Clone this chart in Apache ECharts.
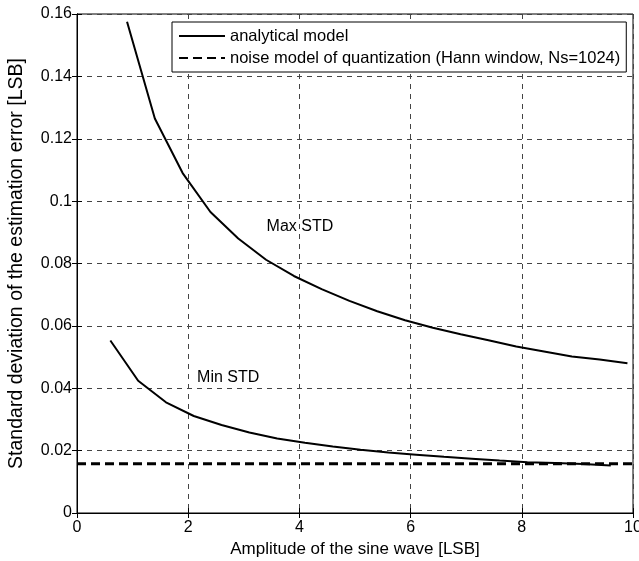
<!DOCTYPE html>
<html><head><meta charset="utf-8">
<script src="https://cdn.jsdelivr.net/npm/echarts@6/dist/echarts.min.js"></script>
<style>html,body{margin:0;padding:0;background:#fff}#c{width:639px;height:561px}</style>
</head><body><div id="c"></div>
<script>
const maxX = [0.9,1.4,1.9,2.4,2.9,3.4,3.9,4.4,4.9,5.4,5.9,6.4,6.9,7.4,7.9,8.4,8.9,9.4,9.9];
const maxY = [0.1575,0.1265,0.109,0.0965,0.088,0.0812,0.076,0.0718,0.068,0.0647,0.0618,0.0594,0.0573,0.0554,0.0534,0.0518,0.0502,0.0492,0.048];
const minX = [0.6,1.1,1.6,2.1,2.6,3.1,3.6,4.1,4.6,5.1,5.6,6.1,6.6,7.1,7.6,8.1,8.6,9.1,9.6];
const minY = [0.0553,0.0424,0.0355,0.0311,0.0282,0.0258,0.0239,0.0225,0.0213,0.0203,0.0194,0.0187,0.018,0.0174,0.0168,0.0163,0.016,0.0157,0.0152];
const noiseX = [0,10];
const noiseY = [0.0158,0.0158];
const annText = ['Max STD','Min STD'];
const annX = [3.41,2.16];
const annY = [0.0919,0.0434];

const zip = (a,b)=>a.map((v,i)=>[v,b[i]]);
const font = 'Liberation Sans, Arial, sans-serif';
const chart = echarts.init(document.getElementById('c'));
const gridLine = {show:true, lineStyle:{color:'#444', type:[5,5], width:1}};
chart.setOption({
  animation:false,
  grid:{left:77, right:6, top:14, bottom:48, show:true, borderColor:'#000', borderWidth:1,
        containLabel:false, outerBoundsMode:'none'},
  legend:{
    orient:'vertical', left:172, top:22, itemWidth:46, itemHeight:14, itemGap:2,
    padding:[4,6,4,6], borderColor:'#000', borderWidth:1, backgroundColor:'#fff', borderRadius:0,
    itemStyle:{opacity:0},
    textStyle:{fontFamily:font, fontSize:16.5, color:'#000', lineHeight:20},
    data:['analytical model','noise model of quantization (Hann window, Ns=1024)']
  },
  xAxis:[{
    type:'value', min:0, max:10, interval:2,
    name:'Amplitude of the sine wave [LSB]', nameLocation:'middle', nameGap:26,
    nameTextStyle:{fontFamily:font, fontSize:17, color:'#000'},
    axisLine:{lineStyle:{color:'#000'}}, axisTick:{inside:true, length:5, lineStyle:{color:'#000'}},
    axisLabel:{fontFamily:font, fontSize:16, color:'#000', margin:7},
    splitLine:gridLine
  },{
    type:'value', min:0, max:10, interval:2, position:'top',
    axisLine:{lineStyle:{color:'#000'}}, axisTick:{inside:true, length:5, lineStyle:{color:'#000'}},
    axisLabel:{show:false}, splitLine:{show:false}
  }],
  yAxis:[{
    type:'value', min:0, max:0.16, interval:0.02,
    name:'Standard deviation of the estimation error [LSB]', nameLocation:'middle', nameGap:50,
    nameTextStyle:{fontFamily:font, fontSize:19.5, color:'#000'},
    axisLine:{lineStyle:{color:'#000'}}, axisTick:{inside:true, length:5, lineStyle:{color:'#000'}},
    axisLabel:{fontFamily:font, fontSize:16, color:'#000', margin:5},
    splitLine:gridLine
  },{
    type:'value', min:0, max:0.16, interval:0.02, position:'right',
    axisLine:{lineStyle:{color:'#000'}}, axisTick:{inside:true, length:5, lineStyle:{color:'#000'}},
    axisLabel:{show:false}, splitLine:{show:false}
  }],
  series:[
    {name:'analytical model', type:'line', data:zip(maxX,maxY), showSymbol:false, symbol:'none',
     lineStyle:{color:'#000', width:2}, itemStyle:{color:'#000'}},
    {name:'analytical model', type:'line', data:zip(minX,minY), showSymbol:false, symbol:'none',
     lineStyle:{color:'#000', width:2}, itemStyle:{color:'#000'}},
    {name:'noise model of quantization (Hann window, Ns=1024)', type:'line', data:zip(noiseX,noiseY), showSymbol:false, symbol:'none',
     lineStyle:{color:'#000', width:3, type:[9,5]}, itemStyle:{color:'#000'}},
    {name:'annotations', type:'scatter', symbolSize:0, itemStyle:{color:'#000'}, silent:true,
     data:annX.map((x,i)=>({value:[x,annY[i]], name:annText[i]})),
     label:{show:true, position:'right', distance:0, formatter:p=>p.name, fontFamily:font, fontSize:16, color:'#000', opacity:1}}
  ]
});
</script></body></html>
